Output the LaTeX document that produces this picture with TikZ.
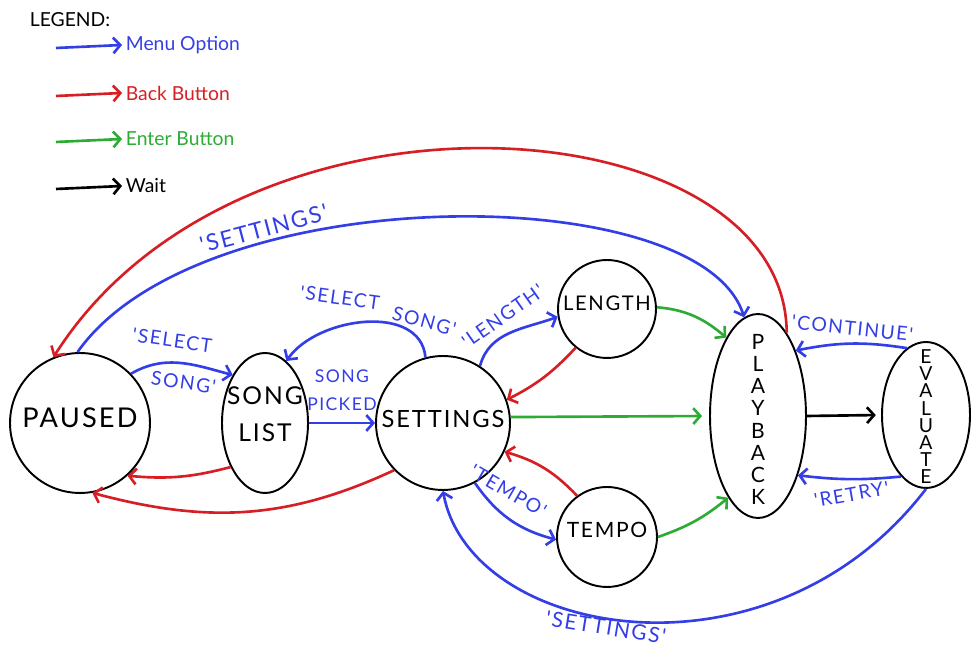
\documentclass[tikz,border=0pt]{standalone}
\usepackage{fontspec}
\setmainfont{Lato}
\newfontfamily\handfont[LetterSpace=8]{Lato}
\usetikzlibrary{shapes.geometric,arrows.meta}
\definecolor{menublue}{RGB}{52,62,230}
\definecolor{backred}{RGB}{214,30,36}
\definecolor{entergreen}{RGB}{44,172,52}
\tikzstyle{state} = [draw,circle,line width=1.1pt,inner sep=0pt]
\tikzstyle{oval} = [draw,ellipse,line width=1.1pt,inner sep=0pt]
\tikzstyle{arrow} = [line width=1.5pt,->,>={Straight Barb[length=4pt,width=9pt]}]
\tikzstyle{menuarrow} = [arrow,menublue]
\tikzstyle{backarrow} = [arrow,backred]
\tikzstyle{enterarrow} = [arrow,entergreen]
\tikzstyle{waitarrow} = [arrow,black]
\tikzstyle{lbl} = [text=menublue,font=\handfont\fontsize{11}{12}\selectfont,inner sep=2pt]
\tikzstyle{legtext} = [anchor=west,inner sep=2pt,font=\fontsize{11}{12}\selectfont]

\begin{document}
\begin{tikzpicture}[x=0.02cm,y=0.02cm]
	\useasboundingbox (0,0) rectangle (971,648);
	\node[legtext] (legend) at (26,628) {LEGEND:};
	\foreach \n/\y/\c/\t in {menu/603/menublue/Menu Option,back/555/backred/Back Button,enter/509/entergreen/Enter Button,wait/462/black/Wait} {
		\node[legtext,text=\c] (l\n) at (122,\y) {\t};
		\coordinate (s\n) at (56,\y-3);
		\draw[arrow,\c] (s\n) -- (l\n.west);
	}

	\node[state,minimum size=2.8cm,label={[yshift=3pt,font=\handfont\fontsize{15.5}{18}\selectfont]center:PAUSED}] (paused) at (80,225) {};
	\node[oval,minimum width=1.72cm,minimum height=2.8cm,label={[yshift=5pt,align=center,font=\handfont\fontsize{14}{21.5}\selectfont]center:{SONG\\LIST}}] (songlist) at (265,225) {};
	\node[state,minimum size=2.68cm,label={[yshift=2pt,font=\handfont\fontsize{13.5}{16}\selectfont]center:SETTINGS}] (settings) at (443,225) {};
	\node[state,minimum size=1.96cm,label={[yshift=3.5pt,font=\handfont\fontsize{11.5}{14}\selectfont]center:LENGTH}] (length) at (607,339) {};
	\node[state,minimum size=2cm,label={[yshift=4pt,font=\handfont\fontsize{12}{14}\selectfont]center:TEMPO}] (tempo) at (607,111) {};
	\node[oval,minimum width=1.92cm,minimum height=4.08cm,label={[yshift=-2pt,align=center,font=\handfont\fontsize{12}{12.6}\selectfont]center:{P\\L\\A\\Y\\B\\A\\C\\K}}] (playback) at (758,232) {};
	\node[oval,minimum width=1.76cm,minimum height=2.92cm,label={[yshift=-1pt,align=center,font=\handfont\fontsize{11}{9.8}\selectfont]center:{E\\V\\A\\L\\U\\A\\T\\E}}] (evaluate) at (926,233) {};

	\draw[backarrow] (playback.71) .. controls (785,545) and (240,585) .. (paused.112);
	\draw[menuarrow] (paused.92) .. controls (200,470) and (700,470) .. (playback.98) node[lbl,pos=.3,above,sloped,font=\handfont\fontsize{13}{15}\selectfont] {'SETTINGS'};
	\draw[menuarrow] (paused.44) to[out=30,in=165] node[lbl,pos=.4,above=6pt,rotate=-8] {'SELECT} node[lbl,pos=.55,below=4pt,rotate=-8] {SONG'} (songlist.124);
	\draw[menuarrow] (settings.105) to[out=95,in=55] node[lbl,pos=.65,above=10pt,rotate=-8] {'SELECT} node[lbl,pos=.1,above=6pt,rotate=-15] {SONG'} (songlist.71);
	\draw[menuarrow] (songlist.east) -- (settings.west) node[lbl,midway,above=4pt,align=center,font=\handfont\fontsize{10}{16.4}\selectfont] {SONG\\PICKED};
	\draw[backarrow] (songlist.232) to[bend left=10] (paused.312);
	\draw[backarrow] (settings.224) to[out=205,in=-15] (paused.280);
	\draw[menuarrow] (settings.57) to[out=75,in=200] node[lbl,pos=.5,above=4pt,rotate=35] {'LENGTH'} (length.189);
	\draw[backarrow] (length.231) to[bend left=10] (settings.20);
	\draw[enterarrow] (length.2) to[out=-5,in=140] (playback.112);
	\draw[enterarrow,shorten >=4pt] (settings.5) -- (playback.west);
	\draw[backarrow] (tempo.126) to[bend right=15] (settings.-25);
	\draw[menuarrow] (settings.-62) to[bend right=20] node[lbl,pos=.4,above=7pt,rotate=-30] {'TEMPO'} (tempo.183);
	\draw[enterarrow] (tempo.east) to[bend right=10] (playback.250);
	\draw[waitarrow,shorten >=3pt] (playback.east) -- (evaluate.west);
	\draw[menuarrow] (evaluate.106) to[bend right=10] node[lbl,above=2pt,rotate=-6] {'CONTINUE'} (playback.60);
	\draw[menuarrow] (evaluate.248) to[bend left=6] node[lbl,below=2pt,rotate=10] {'RETRY'} (playback.304);
	\draw[menuarrow] (evaluate.south) .. controls (770,-45) and (470,10) .. (settings.south) node[lbl,pos=.55,below=-1pt,sloped,inner sep=1pt,font=\handfont\fontsize{12}{14}\selectfont] {'SETTINGS'};
\end{tikzpicture}
\end{document}
